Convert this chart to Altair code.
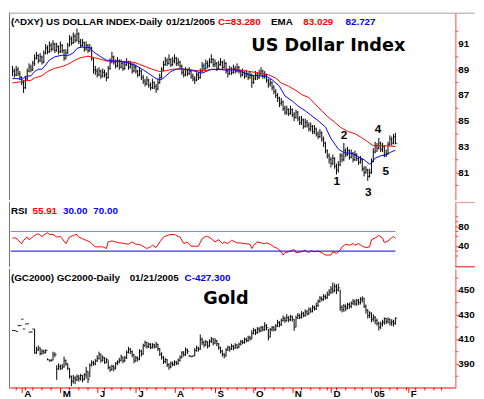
import altair as alt
import pandas as pd

# ---------------- data ----------------
dxy_cl = [
    88.9, 88.6, 89.0, 88.7, 88.4, 88.0, 87.6, 88.3, 88.9, 89.2,
    89.0, 89.5, 89.9, 90.1, 89.7, 90.0, 89.6, 90.3, 90.7, 90.4,
    90.9, 90.6, 91.0, 90.5, 90.8, 90.4, 90.9, 90.5, 89.9, 90.3,
    90.9, 91.4, 91.1, 91.6, 91.3, 91.8, 91.2, 90.9, 91.1, 90.6,
    90.9, 90.5, 90.7, 89.9, 89.0, 88.9, 88.6, 88.9, 88.5, 88.8,
    88.6, 88.4, 89.1, 89.6, 90.0, 89.6, 89.3, 89.7, 89.2, 89.5,
    89.1, 89.4, 89.6, 89.2, 89.4, 88.9, 89.2, 88.9, 88.6, 88.9,
    88.4, 88.1, 87.9, 88.2, 87.8, 87.6, 88.0, 87.7, 87.5, 88.0,
    88.4, 89.0, 89.4, 89.7, 89.5, 89.8, 89.4, 89.7, 89.9, 89.5,
    89.6, 89.3, 88.8, 88.6, 89.0, 88.7, 88.9, 88.5, 88.3, 88.2,
    88.6, 88.4, 88.9, 89.3, 89.1, 89.5, 89.3, 89.6, 89.8, 89.4,
    89.5, 89.1, 89.4, 89.6, 89.2, 89.5, 88.9, 88.7, 89.0, 88.8,
    89.1, 88.9, 89.2, 88.9, 88.6, 88.8, 88.5, 88.7, 88.4, 88.6,
    88.0, 88.3, 88.6, 88.4, 88.7, 88.9, 88.5, 88.6, 88.2, 87.9,
    88.0, 87.6, 87.3, 87.0, 86.8, 86.4, 86.5, 86.0, 85.7, 85.9,
    85.6, 85.9, 85.5, 85.3, 85.7, 85.2, 84.9, 85.1, 84.6, 84.9,
    84.7, 84.4, 84.6, 84.2, 84.4, 84.0, 83.8, 84.1, 83.6, 83.3,
    82.7, 82.3, 82.0, 81.7, 82.1, 81.5, 81.2, 81.6, 82.3, 82.0,
    82.7, 82.4, 82.7, 82.2, 82.5, 82.0, 82.4, 82.1, 81.8, 82.0,
    81.3, 81.0, 81.2, 80.7, 81.0, 81.9, 82.6, 83.1, 82.9, 83.3,
    82.8, 83.0, 82.4, 82.5, 83.2, 83.6, 83.3, 83.8, 83.28,
]
dxy_hi = [
    89.3, 89.1, 89.3, 89.2, 88.9, 88.5, 88.2, 88.5, 89.1, 89.5,
    89.4, 89.7, 90.2, 90.4, 90.2, 90.3, 90.1, 90.5, 91.0, 90.9,
    91.2, 91.1, 91.3, 91.1, 91.1, 90.9, 91.2, 91.0, 90.6, 90.6,
    91.1, 91.7, 91.6, 91.9, 91.8, 92.2, 91.9, 91.4, 91.4, 91.2,
    91.2, 91.0, 91.0, 90.8, 89.9, 89.3, 89.1, 89.2, 89.0, 89.1,
    89.0, 88.8, 89.3, 89.9, 90.4, 90.1, 89.8, 90.0, 89.8, 89.8,
    89.6, 89.7, 89.9, 89.7, 89.7, 89.5, 89.5, 89.4, 89.0, 89.2,
    89.0, 88.6, 88.3, 88.5, 88.3, 88.0, 88.3, 88.1, 87.9, 88.3,
    88.7, 89.2, 89.7, 90.0, 89.9, 90.2, 89.9, 90.0, 90.2, 90.0,
    89.9, 89.7, 89.4, 89.0, 89.2, 89.1, 89.2, 89.0, 88.7, 88.5,
    88.8, 88.8, 89.1, 89.6, 89.5, 89.8, 89.7, 89.9, 90.2, 89.9,
    89.8, 89.6, 89.7, 89.9, 89.7, 89.8, 89.6, 89.1, 89.3, 89.2,
    89.4, 89.3, 89.5, 89.3, 89.0, 89.1, 88.9, 89.0, 88.8, 88.9,
    88.7, 88.6, 88.9, 88.8, 89.0, 89.2, 89.0, 88.9, 88.7, 88.3,
    88.3, 88.1, 87.8, 87.5, 87.2, 86.9, 86.8, 86.6, 86.2, 86.2,
    86.0, 86.2, 86.0, 85.7, 85.9, 85.8, 85.4, 85.4, 85.2, 85.2,
    85.1, 84.9, 84.9, 84.7, 84.7, 84.5, 84.2, 84.4, 84.2, 83.8,
    83.4, 82.8, 82.5, 82.2, 82.4, 82.2, 81.7, 81.9, 82.5, 82.5,
    83.3, 82.9, 83.0, 82.8, 82.8, 82.6, 82.7, 82.5, 82.2, 82.3,
    82.1, 81.5, 81.5, 81.3, 81.3, 82.1, 82.9, 83.4, 83.3, 83.7,
    83.4, 83.3, 83.1, 82.8, 83.4, 83.9, 83.8, 84.0, 84.1,
]
dxy_lo = [
    88.5, 88.4, 88.5, 88.5, 88.2, 87.8, 87.2, 87.5, 88.2, 88.8,
    88.8, 88.9, 89.3, 89.8, 89.5, 89.6, 89.4, 89.5, 90.2, 90.2,
    90.3, 90.4, 90.5, 90.3, 90.4, 90.2, 90.3, 90.3, 89.7, 89.8,
    90.2, 90.8, 90.9, 91.0, 91.1, 91.2, 91.0, 90.7, 90.8, 90.4,
    90.5, 90.3, 90.4, 89.7, 88.7, 88.6, 88.4, 88.5, 88.3, 88.4,
    88.4, 88.1, 88.3, 89.0, 89.5, 89.4, 89.1, 89.2, 89.0, 89.1,
    88.9, 89.0, 89.3, 89.0, 89.1, 88.7, 88.8, 88.7, 88.4, 88.5,
    88.2, 87.9, 87.7, 87.8, 87.6, 87.4, 87.5, 87.5, 87.2, 87.4,
    87.9, 88.3, 88.9, 89.3, 89.3, 89.4, 89.2, 89.3, 89.5, 89.3,
    89.3, 89.1, 88.6, 88.4, 88.5, 88.5, 88.6, 88.3, 88.1, 87.9,
    88.1, 88.2, 88.3, 88.8, 88.9, 89.0, 89.1, 89.2, 89.5, 89.2,
    89.2, 88.9, 89.0, 89.3, 89.0, 89.1, 88.7, 88.4, 88.6, 88.6,
    88.7, 88.7, 88.8, 88.7, 88.4, 88.5, 88.3, 88.4, 88.2, 88.3,
    87.6, 87.9, 88.2, 88.2, 88.3, 88.5, 88.3, 88.3, 88.0, 87.6,
    87.7, 87.4, 87.1, 86.8, 86.5, 86.1, 86.2, 85.8, 85.5, 85.5,
    85.4, 85.5, 85.3, 85.0, 85.2, 85.0, 84.7, 84.7, 84.4, 84.5,
    84.5, 84.2, 84.2, 84.0, 84.0, 83.8, 83.6, 83.7, 83.4, 83.0,
    82.5, 82.1, 81.7, 81.4, 81.6, 81.3, 80.85, 81.0, 81.5, 81.8,
    81.9, 82.2, 82.3, 82.0, 82.1, 81.8, 81.9, 81.9, 81.6, 81.7,
    81.1, 80.7, 80.9, 80.35, 80.6, 80.9, 81.8, 82.5, 82.6, 82.8,
    82.6, 82.6, 82.2, 82.2, 82.4, 83.1, 83.1, 83.2, 83.2,
]
ema_red_i = [0, 3, 7, 10, 12, 16, 19, 23, 27, 30, 34, 37, 41, 44, 48, 51, 58, 66, 69, 73,
             76, 80, 83, 87, 91, 94, 98, 101, 105, 108, 112, 115, 121, 123, 129, 134, 139, 143, 146, 150,
             154, 157, 161, 164, 168, 171, 175, 178, 182, 186, 189, 193, 196, 200, 203, 208]
ema_red_v = [87.97, 88.03, 88.15, 88.18, 88.36, 88.53, 88.86, 89.12, 89.25, 89.42,
             89.75, 89.93, 90.06, 89.96, 89.81, 89.68, 89.65, 89.58, 89.42, 89.20,
             89.04, 88.86, 88.92, 89.04, 89.07, 89.04, 88.97, 88.92, 88.94, 89.02,
             89.04, 89.04, 89.04, 88.99, 88.86, 88.74, 88.61, 88.36, 87.97, 87.72,
             87.39, 87.08, 86.83, 86.40, 85.81, 85.38, 84.92, 84.54, 84.21, 84.03,
             83.78, 83.39, 83.09, 83.09, 83.09, 83.03]
ema_blue_i = [0, 3, 5, 7, 10, 12, 14, 16, 18, 20, 23, 27, 30, 33, 35, 37, 42, 44, 48, 51,
              55, 60, 64, 67, 71, 75, 78, 81, 83, 86, 89, 92, 96, 99, 103, 106, 108, 112, 115, 121,
              123, 129, 134, 138, 141, 145, 148, 152, 155, 159, 162, 166, 170, 173, 177, 180, 184, 187, 191, 194,
              195, 197, 200, 203, 206, 208]
ema_blue_v = [88.31, 88.31, 88.23, 88.48, 88.53, 88.86, 89.04, 89.04, 89.37, 89.75,
              90.01, 90.14, 90.09, 90.31, 90.65, 90.77, 90.72, 90.39, 90.01, 89.75,
              89.68, 89.63, 89.50, 89.32, 88.99, 88.61, 88.31, 88.23, 88.48, 88.86,
              89.04, 89.07, 88.99, 88.89, 88.74, 88.92, 89.04, 89.02, 88.99, 88.99,
              88.92, 88.56, 88.53, 88.48, 88.23, 87.72, 86.96, 86.57, 86.19, 85.81,
              85.48, 85.05, 84.54, 83.65, 82.83, 82.55, 82.50, 82.30, 82.00, 81.66,
              81.74, 82.12, 82.30, 82.38, 82.63, 82.73]
rsi_i = [0, 2, 3, 5, 6, 8, 9, 11, 12, 14, 16, 18, 19, 20, 22, 24, 26, 27, 29, 31,
         33, 35, 36, 38, 40, 42, 43, 45, 47, 49, 51, 52, 54, 56, 58, 59, 61, 63, 65, 67,
         68, 70, 73, 75, 76, 78, 80, 82, 85, 88, 90, 91, 93, 95, 97, 99, 101, 103, 105, 106,
         108, 110, 112, 114, 115, 117, 119, 121, 122, 124, 126, 129, 130, 131, 133, 135, 137, 138, 140, 142,
         144, 146, 147, 148, 150, 153, 154, 157, 159, 161, 162, 164, 166, 168, 170, 173, 174, 176, 178, 179,
         181, 183, 185, 186, 188, 190, 192, 194, 195, 197, 199, 201, 202, 204, 206, 207, 208]
rsi_v = [56.7, 56.7, 52.0, 45.3, 52.0, 58.7, 53.3, 58.7, 62.0, 65.3,
         60.0, 65.3, 67.3, 64.0, 64.0, 58.7, 60.0, 55.3, 45.3, 58.7,
         62.0, 64.0, 58.7, 55.3, 52.0, 48.7, 45.3, 38.7, 38.7, 38.7,
         35.3, 48.7, 50.7, 48.7, 46.7, 46.7, 45.3, 44.0, 48.7, 44.0,
         44.0, 42.0, 35.3, 38.7, 42.0, 37.3, 48.7, 58.7, 63.3, 64.0,
         60.0, 58.7, 45.3, 48.7, 40.0, 40.0, 40.0, 55.3, 60.0, 60.0,
         55.3, 48.7, 53.3, 45.3, 48.7, 45.3, 52.0, 48.7, 46.7, 46.7,
         45.3, 44.0, 35.3, 42.0, 48.7, 46.7, 45.3, 46.7, 44.0, 38.7,
         35.3, 28.7, 22.0, 26.7, 28.7, 33.3, 26.7, 28.7, 32.0, 26.7,
         30.7, 28.7, 30.0, 26.7, 22.0, 22.0, 28.7, 25.3, 32.0, 38.7,
         44.0, 42.0, 45.3, 42.0, 45.3, 40.0, 37.3, 38.7, 53.3, 56.7,
         62.0, 56.7, 47.3, 50.7, 57.3, 60.0, 55.91]
rsi_levels = [30, 70]
gold_cl = [
    417.2, 417.2, 416.5, 421.2, 421.5, 426.5, 418.5, 422.5, 422.8, 415.9,
    416.2, 418.5, 399.0, 401.5, 403.0, 398.5, 400.5, 399.5, 401.0, 393.5,
    392.5, 393.0, 398.0, 397.5, 386.0, 388.0, 386.5, 387.5, 393.0, 390.0,
    386.5, 380.0, 376.0, 378.5, 377.0, 379.5, 378.0, 380.5, 377.5, 381.0,
    384.0, 377.5, 389.0, 391.0, 390.0, 392.5, 394.5, 398.0, 393.0, 395.0,
    391.5, 393.5, 387.0, 385.5, 388.0, 386.5, 390.5, 391.5, 393.0, 395.5,
    392.5, 395.0, 399.5, 402.0, 400.0, 397.5, 392.5, 395.0, 394.0, 400.5,
    398.0, 405.0, 407.5, 404.0, 406.0, 403.5, 405.5, 404.0, 406.0, 402.5,
    398.0, 395.5, 392.0, 393.5, 389.5, 387.5, 390.5, 389.5, 391.5, 390.5,
    393.0, 395.5, 399.0, 397.5, 401.5, 400.0, 396.5, 396.0, 396.5, 401.0,
    403.0, 402.0, 410.0, 407.5, 405.5, 408.0, 404.5, 408.5, 410.5, 407.0,
    409.0, 406.5, 403.5, 400.5, 398.0, 396.5, 401.5, 403.5, 402.0, 404.5,
    403.0, 405.5, 403.5, 406.0, 408.0, 407.5, 410.0, 409.0, 411.5, 410.5,
    415.0, 417.5, 415.5, 418.5, 417.0, 419.5, 418.0, 421.0, 419.5, 412.0,
    418.0, 419.5, 418.0, 421.0, 423.5, 422.0, 425.5, 427.0, 425.5, 428.0,
    426.0, 428.5, 426.5, 420.0, 427.5, 429.5, 428.0, 431.0, 429.5, 432.5,
    431.0, 434.5, 433.0, 436.0, 435.0, 437.5, 441.0, 443.5, 442.5, 445.0,
    444.0, 446.5, 448.5, 451.0, 449.5, 453.0, 450.5, 452.0, 436.0, 434.5,
    437.0, 435.5, 438.5, 437.0, 439.5, 441.0, 439.0, 441.5, 440.0, 442.5,
    443.5, 437.0, 434.0, 429.5, 431.5, 426.5, 428.0, 425.5, 423.0, 420.0,
    422.5, 424.0, 427.0, 424.5, 426.5, 423.5, 424.5, 423.0, 427.3,
]
gold_hi = [
    417.7, 417.5, 416.8, 421.5, 421.8, 426.8, 418.8, 422.8, 423.1, 416.2,
    416.5, 418.8, 418.5, 404.0, 405.0, 403.5, 402.0, 401.5, 402.0, 394.5,
    393.5, 394.0, 400.0, 399.5, 389.0, 390.5, 389.5, 390.0, 396.0, 393.5,
    390.5, 386.5, 380.5, 381.0, 380.0, 381.5, 381.0, 382.0, 381.0, 382.5,
    387.5, 384.0, 390.5, 393.0, 392.5, 394.0, 397.0, 400.0, 398.5, 397.0,
    395.5, 395.0, 393.0, 388.5, 389.5, 389.0, 391.5, 393.0, 395.0, 397.5,
    396.0, 396.5, 401.0, 404.0, 403.0, 401.0, 398.0, 396.5, 396.0, 402.0,
    401.5, 406.5, 409.0, 408.0, 407.5, 407.0, 407.0, 406.5, 408.0, 406.5,
    403.0, 399.5, 396.5, 395.0, 394.0, 390.5, 392.0, 392.0, 393.0, 392.5,
    394.5, 397.0, 400.5, 400.5, 403.5, 402.5, 397.2, 396.6, 397.0, 403.0,
    405.0, 404.0, 414.0, 411.5, 409.0, 409.5, 408.5, 410.0, 412.0, 411.0,
    411.0, 409.5, 407.0, 404.0, 401.5, 399.0, 403.0, 405.0, 404.5, 406.5,
    405.5, 407.0, 406.0, 407.5, 409.5, 409.5, 411.5, 411.5, 413.0, 413.0,
    417.5, 419.5, 418.5, 420.0, 420.0, 421.0, 421.0, 424.0, 422.5, 418.5,
    419.5, 421.0, 421.0, 422.5, 426.0, 425.0, 427.0, 429.5, 428.5, 430.5,
    429.0, 430.0, 429.5, 426.5, 429.5, 431.5, 431.0, 433.0, 432.5, 434.5,
    434.0, 436.0, 436.0, 438.0, 437.5, 440.0, 442.5, 445.5, 445.0, 447.0,
    446.5, 449.0, 451.0, 453.5, 456.4, 455.5, 455.0, 455.5, 450.5, 438.0,
    439.0, 438.5, 440.0, 440.0, 441.0, 443.0, 442.5, 443.0, 443.0, 444.5,
    445.2, 444.0, 438.5, 434.5, 433.0, 432.0, 430.5, 429.0, 427.0, 424.5,
    424.5, 426.0, 428.0, 427.5, 427.9, 427.0, 426.5, 426.0, 428.0,
]
gold_lo = [
    416.9, 416.9, 416.2, 420.9, 421.2, 426.2, 418.2, 422.2, 422.5, 415.6,
    415.9, 418.2, 398.5, 398.0, 400.5, 397.0, 397.5, 398.0, 398.5, 393.0,
    392.0, 391.9, 393.0, 395.5, 377.0, 385.0, 385.0, 385.5, 387.0, 388.5,
    385.0, 378.0, 372.0, 374.0, 373.5, 376.0, 375.5, 376.5, 375.0, 376.5,
    378.0, 374.5, 379.0, 388.0, 388.5, 389.0, 391.5, 393.5, 391.0, 392.0,
    390.0, 390.5, 385.5, 383.5, 384.5, 384.0, 385.5, 389.0, 390.5, 392.0,
    390.5, 391.5, 394.0, 398.5, 398.0, 395.5, 390.5, 391.5, 392.0, 393.0,
    396.0, 397.5, 403.5, 402.5, 403.0, 402.0, 402.5, 402.5, 403.0, 400.5,
    396.5, 393.5, 390.0, 390.5, 387.5, 385.2, 386.5, 388.0, 388.5, 389.0,
    389.5, 392.0, 394.5, 396.0, 396.5, 398.0, 395.8, 395.4, 396.0, 396.5,
    400.0, 400.0, 401.5, 405.5, 403.5, 404.5, 402.5, 404.0, 407.0, 405.0,
    406.0, 404.5, 401.5, 398.5, 396.0, 394.5, 396.0, 400.5, 400.0, 401.5,
    401.0, 402.5, 402.0, 403.0, 405.0, 406.0, 406.5, 407.5, 408.0, 409.0,
    410.0, 414.0, 413.5, 414.5, 415.5, 416.0, 416.5, 417.0, 417.5, 409.2,
    411.5, 416.5, 416.5, 417.0, 420.0, 420.0, 421.0, 424.5, 423.5, 424.5,
    424.0, 425.0, 424.5, 417.0, 420.0, 426.5, 426.5, 427.0, 428.0, 428.5,
    429.5, 430.0, 431.5, 432.0, 433.5, 434.0, 436.5, 440.0, 441.0, 441.5,
    442.5, 443.0, 445.5, 447.0, 447.5, 448.5, 447.0, 449.0, 433.2, 432.0,
    432.5, 433.0, 434.5, 435.0, 435.5, 438.0, 437.5, 437.5, 438.0, 438.5,
    440.0, 435.5, 431.0, 427.0, 427.5, 424.0, 424.5, 422.5, 421.2, 417.2,
    418.5, 420.5, 422.0, 422.5, 423.0, 421.5, 421.0, 420.5, 422.0,
]
ann_lbl = ["1", "2", "3", "4", "5"]
ann_i = [176.1, 180.1, 193.2, 198.5, 202.8]
ann_v = [80.31, 83.90, 79.47, 84.36, 81.15]
ema_last = ["83.029", "82.727"]

# axis ticks (labelled / unlabelled) of the three price scales
dxy_lab = [81, 83, 85, 87, 89, 91]
dxy_minor = [80, 82, 84, 86, 88, 90, 92]
rsi_lab = [40, 80]
rsi_minor = [20, 30, 60, 70, 90, 100]
gold_lab = [390, 410, 430, 450]
gold_minor = [380, 400, 420, 440, 460]

first_day = "2004-03-25"
calendar_end = "2005-03-04"
holidays = ["2004-04-09", "2004-05-31", "2004-06-11", "2004-07-05", "2004-09-06",
            "2004-11-25", "2004-12-24", "2005-01-17", "2005-02-21"]
last_month_label = "2005-02-01"

# ---------------- layout / style ----------------
W = 455
H_TOP, H_RSI, H_GOLD = 191, 66, 121
X_DOM = [-1.92, 240.6]
FONT = "Liberation Sans"
BIG = "DejaVu Sans"
RED = "#ff0000"
BLUE = "#0000ff"
AXRED = "#ff4848"

# ---------------- calendar -> axis ticks ----------------
cal = pd.bdate_range(first_day, calendar_end)
cal = cal[~cal.isin(pd.to_datetime(holidays))]
month_idx, month_lbl, week_idx = [], [], []
for k in range(1, len(cal)):
    d, p = cal[k], cal[k - 1]
    if d.month != p.month:
        if d <= pd.Timestamp(last_month_label):
            month_idx.append(int(k))
            month_lbl.append(d.strftime("%y") if d.month == 1 else d.strftime("%b")[0])
    elif d.weekday() < p.weekday():
        week_idx.append(int(k))
week_idx = [k for k in week_idx if k <= X_DOM[1]]

n = len(dxy_cl)
dxy = pd.DataFrame({"i": list(range(n)), "hi": dxy_hi, "lo": dxy_lo, "cl": dxy_cl})
gold = pd.DataFrame({"i": list(range(n)), "hi": gold_hi, "lo": gold_lo, "cl": gold_cl})
one = pd.DataFrame({"z": [0]})

xs = alt.Scale(domain=X_DOM, nice=False, zero=False)


def X(field="i"):
    return alt.X(f"{field}:Q", scale=xs, axis=None)


def XG(field="i"):
    return alt.X(f"{field}:Q", scale=xs)


def txt(s, px, py, color="black", size=10, font=FONT):
    return alt.Chart(pd.DataFrame({"t": [s]})).mark_text(
        align="left", baseline="alphabetic", font=font, fontSize=size,
        fontWeight="bold", color=color
    ).encode(x=alt.value(px), y=alt.value(py), text="t:N")


def yaxis(values):
    return alt.Axis(orient="right", values=values, title=None, grid=False, labels=False,
                    domainColor=AXRED, tickColor=AXRED, tickSize=3)


def minor_y(values):
    return alt.Chart(pd.DataFrame({"v": values})).mark_rule(color=AXRED, strokeWidth=1).encode(
        x=alt.value(W), x2=alt.value(W + 3), y=alt.Y("v:Q"))


def ylabels(values):
    return alt.Chart(pd.DataFrame({"v": values})).mark_text(
        align="left", baseline="middle", font=FONT, fontSize=10, fontWeight="bold", color="black"
    ).encode(x=alt.value(W + 3), y=alt.Y("v:Q"), text=alt.Text("v:Q", format="d"))


def rule_px(x1, x2, y1, y2, color):
    return alt.Chart(one).mark_rule(color=color, strokeWidth=1).encode(
        x=alt.value(x1), x2=alt.value(x2), y=alt.value(y1), y2=alt.value(y2))


# ---------------- top panel: US Dollar Index ----------------
top_bars = alt.Chart(dxy).mark_rule(color="black", strokeWidth=1).encode(
    x=X(),
    y=alt.Y("lo:Q", scale=alt.Scale(domain=[78.86, 93.44], nice=False, zero=False),
            axis=yaxis(dxy_lab)),
    y2="hi:Q")
top_close = alt.Chart(dxy).mark_tick(orient="horizontal", size=2, thickness=1, xOffset=1,
                                     color="black").encode(x=X(), y=alt.Y("cl:Q"))
ema_red = alt.Chart(pd.DataFrame({"i": ema_red_i, "v": ema_red_v})).mark_line(
    color=RED, strokeWidth=1).encode(x=X(), y=alt.Y("v:Q"))
ema_blue = alt.Chart(pd.DataFrame({"i": ema_blue_i, "v": ema_blue_v})).mark_line(
    color=BLUE, strokeWidth=1).encode(x=X(), y=alt.Y("v:Q"))
ann = alt.Chart(pd.DataFrame({"i": ann_i, "v": ann_v, "t": ann_lbl})).mark_text(
    font=FONT, fontSize=12, fontWeight="bold", color="black", align="center", baseline="middle"
).encode(x=X(), y=alt.Y("v:Q"), text="t:N")

top = alt.layer(
    top_bars, top_close, ema_red, ema_blue, ann, minor_y(dxy_minor), ylabels(dxy_lab),
    txt("(^DXY) US DOLLAR INDEX-Daily", 2, 12.5),
    txt("01/21/2005", 160, 12.5),
    txt(f"C={dxy_cl[-1]:.3f}", 213, 12.5, RED),
    txt("EMA", 267, 12.5),
    txt(ema_last[0], 300, 12.5, RED),
    txt(ema_last[1], 343, 12.5, BLUE),
    txt("US Dollar Index", 247, 39, size=18, font=BIG),
    rule_px(0.5, 0.5, 0, H_TOP, "#707070"),
    rule_px(0, 475, 0.5, 0.5, "#a0a0a0"),
).properties(width=W, height=H_TOP)

# ---------------- RSI panel ----------------
levels = pd.DataFrame({"i0": [-1, -1], "i1": [n - 1, n - 1], "v": rsi_levels})
rsi_line = alt.Chart(pd.DataFrame({"i": rsi_i, "v": rsi_v})).mark_line(
    color=RED, strokeWidth=1).encode(
    x=X(),
    y=alt.Y("v:Q", scale=alt.Scale(domain=[-2, 130], nice=False, zero=False),
            axis=yaxis(rsi_lab)))
lvl_lo = alt.Chart(levels.iloc[[0]]).mark_rule(color="#0000cc", strokeWidth=1).encode(
    x=X("i0"), x2="i1:Q", y=alt.Y("v:Q"))
lvl_hi = alt.Chart(levels.iloc[[1]]).mark_rule(color="#8080ff", strokeWidth=1).encode(
    x=X("i0"), x2="i1:Q", y=alt.Y("v:Q"))

rsi = alt.layer(
    rsi_line, lvl_hi, lvl_lo, minor_y(rsi_minor), ylabels(rsi_lab),
    txt("RSI", 2, 12),
    txt(f"{rsi_v[-1]:.2f}", 24, 12, RED),
    txt(f"{rsi_levels[0]:.2f}", 55, 12, BLUE),
    txt(f"{rsi_levels[1]:.2f}", 86, 12, BLUE),
    rule_px(455, 475, 0.5, 0.5, "#ff9090"),
    rule_px(455, 475, H_RSI, H_RSI, RED),
    rule_px(0.5, 0.5, 0, H_RSI, "#707070"),
).properties(width=W, height=H_RSI)

# ---------------- Gold panel ----------------
lbl_expr = " : ".join(f"datum.value == {i} ? '{l}'" for i, l in zip(month_idx, month_lbl)) + " : ''"
xaxis = alt.Axis(orient="bottom", values=month_idx, labelExpr=lbl_expr, title=None, grid=False,
                 domainColor=RED, tickColor=RED, tickSize=5, labelPadding=-4,
                 labelFont=FONT, labelFontSize=10, labelFontWeight="bold", labelColor="black",
                 labelAlign="left", labelOffset=2, labelBaseline="top",
                 labelOverlap=False, labelFlush=False)
gold_bars = alt.Chart(gold).mark_rule(color="black", strokeWidth=1).encode(
    x=alt.X("i:Q", scale=xs, axis=xaxis),
    y=alt.Y("lo:Q", scale=alt.Scale(domain=[370.8, 467.6], nice=False, zero=False),
            axis=yaxis(gold_lab)),
    y2="hi:Q")
gold_close = alt.Chart(gold).mark_tick(orient="horizontal", size=2, thickness=1, xOffset=1,
                                       color="black").encode(x=XG(), y=alt.Y("cl:Q"))
minor = alt.Chart(pd.DataFrame({"i": week_idx})).mark_rule(color=RED, strokeWidth=1).encode(
    x=XG(), y=alt.value(H_GOLD), y2=alt.value(H_GOLD + 3))

goldp = alt.layer(
    gold_bars, gold_close, minor, minor_y(gold_minor), ylabels(gold_lab),
    txt("(GC2000) GC2000-Daily", 2, 12.5),
    txt("01/21/2005", 123, 12.5),
    txt(f"C-{gold_cl[-1]:.3f}", 179, 12.5, BLUE),
    txt("Gold", 198, 36, size=18, font=BIG),
    rule_px(0.5, 0.5, 0, H_GOLD, "#707070"),
).properties(width=W, height=H_GOLD)

chart = alt.vconcat(top, rsi, goldp, spacing=0).properties(
    padding=0, background="white"
).configure_view(stroke=None)

chart.save("out.html", embed_options={"renderer": "svg", "actions": False})
